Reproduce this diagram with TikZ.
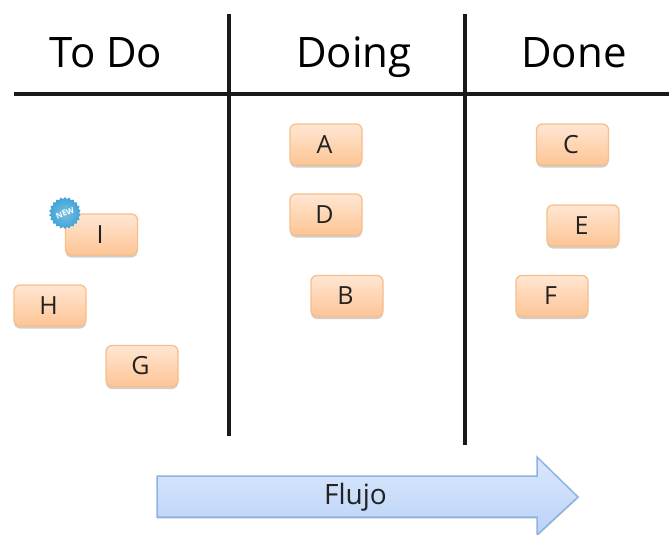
\documentclass[tikz,border=0pt]{standalone}
\usepackage{fontspec}
\setmainfont{Open Sans}
\usetikzlibrary{shapes.geometric,shadows,shapes.arrows}
\definecolor{cardedge}{HTML}{F8BE8C}
\definecolor{cardtop}{HTML}{FFE6D2}
\definecolor{cardbot}{HTML}{FDC595}
\definecolor{shadowtone}{HTML}{6E5A4A}
\definecolor{arrowedge}{HTML}{8DB3E2}
\definecolor{arrowtop}{HTML}{DCE8FC}
\definecolor{arrowbot}{HTML}{B9D2F8}
\definecolor{burst}{HTML}{3FA3D6}
\definecolor{inktext}{HTML}{222222}
\newcommand{\cardlabel}[1]{\kern-3pt #1}
\tikzset{
  x=1pt,y=-1pt,
  card/.style={draw=cardedge,line width=1.3pt,rounded corners=6pt,minimum width=72pt,minimum height=41pt,
    inner sep=0pt,top color=cardtop,bottom color=cardbot,text=inktext,font=\fontsize{25}{25}\selectfont,
    drop shadow={shadow xshift=0pt,shadow yshift=-2.5pt,opacity=.3,fill=shadowtone}},
  head/.style={inner sep=0pt,text=black,font=\fontsize{42}{42}\selectfont,anchor=base},
  rule/.style={line width=3.4pt,draw=black!90}
}
\begin{document}
\begin{tikzpicture}
\useasboundingbox (0,0) rectangle (669,535);
% headings
\node[head] (todo) at (106,67) {To Do};
\node[head] (doing) at (354,67) {Doing};
\node[head] (done) at (574,67) {Done};
% board rules
\coordinate (hl) at (14,94);
\coordinate (hr) at (669,94);
\coordinate (v1t) at (229,14);
\coordinate (v1b) at (229,436);
\coordinate (v2t) at (465,14);
\coordinate (v2b) at (465,445);
\draw[rule] (hl) -- (hr);
\draw[rule] (v1t) -- (v1b);
\draw[rule] (v2t) -- (v2b);
% cards
\node[card] (A) at (326,144.5) {\cardlabel{A}};
\node[card] (D) at (326,214.5) {\cardlabel{D}};
\node[card] (B) at (347,296) {\cardlabel{B}};
\node[card] (C) at (572.5,144.5) {\cardlabel{C}};
\node[card] (E) at (583,225.5) {\cardlabel{E}};
\node[card] (F) at (552,296) {\cardlabel{F}};
\node[card] (I) at (101.5,234.5) {\cardlabel{I}};
\node[card] (H) at (50,305.5) {\cardlabel{H}};
\node[card] (G) at (142,366) {\cardlabel{G}};
% new badge: the text sits inside the burst node
\node[star,star points=22,star point ratio=1.14,minimum size=32pt,inner sep=0pt,
  inner color=burst!70,outer color=burst,draw=none] (badge) at (65,213)
  {\rotatebox{22}{\textcolor{white}{\bfseries\fontsize{8}{8}\selectfont NEW}}};
% flow arrow
\path[draw=arrowedge,line width=1.5pt,top color=arrowtop,bottom color=arrowbot,
  drop shadow={shadow xshift=0pt,shadow yshift=-1.5pt,opacity=.25,fill=black!70}]
  (157,476) -- (537,476) -- (537,457) -- (578,497) -- (537,535) -- (537,517) -- (157,517) -- cycle;
\node[text=inktext,font=\fontsize{28}{28}\selectfont,inner sep=0pt] (flujo) at (355.5,497) {Flujo};
\end{tikzpicture}
\end{document}
